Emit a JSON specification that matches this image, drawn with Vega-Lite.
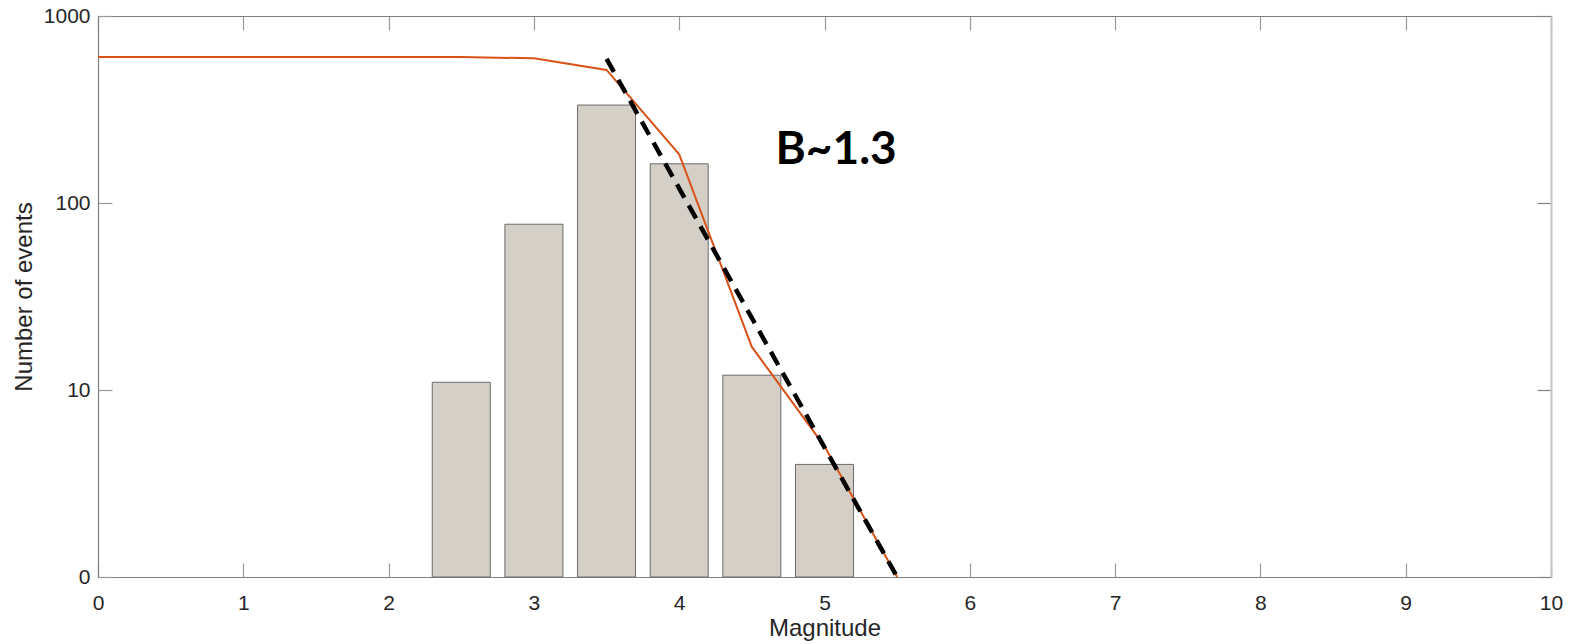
{
  "$schema": "https://vega.github.io/schema/vega-lite/v6.json",
  "autosize": "none",
  "width": 1453,
  "height": 561,
  "padding": {"left": 98, "top": 16, "right": 24, "bottom": 67},
  "background": "white",
  "config": {
    "view": {"stroke": null},
    "font": "Liberation Sans",
    "axis": {
      "grid": false,
      "labelFont": "Liberation Sans",
      "labelFontSize": 21,
      "labelColor": "#262626",
      "titleFont": "Liberation Sans",
      "titleFontSize": 24,
      "titleFontWeight": "normal",
      "titleColor": "#262626",
      "domainColor": "#808080",
      "domainWidth": 1.2,
      "tickColor": "#9a9a9a",
      "tickSize": -14,
      "tickWidth": 1.2
    }
  },
  "datasets": {
    "counts": [
      {"magnitude": 2.5, "events": 11},
      {"magnitude": 3.0, "events": 77},
      {"magnitude": 3.5, "events": 334},
      {"magnitude": 4.0, "events": 162},
      {"magnitude": 4.5, "events": 12},
      {"magnitude": 5.0, "events": 4}
    ],
    "cumulative": [
      {"magnitude": 0.0, "events": 603},
      {"magnitude": 0.5, "events": 603},
      {"magnitude": 1.0, "events": 603},
      {"magnitude": 1.5, "events": 603},
      {"magnitude": 2.0, "events": 603},
      {"magnitude": 2.5, "events": 603},
      {"magnitude": 3.0, "events": 594},
      {"magnitude": 3.5, "events": 515},
      {"magnitude": 4.0, "events": 182},
      {"magnitude": 4.5, "events": 17},
      {"magnitude": 5.0, "events": 5},
      {"magnitude": 5.5, "events": 1}
    ],
    "fit": [
      {"magnitude": 3.5, "events": 590},
      {"magnitude": 5.5, "events": 1}
    ],
    "note": [
      {"magnitude": 5.08, "events": 162, "label": "B~1.3"}
    ]
  },
  "layer": [
    {
      "data": {"name": "counts"},
      "mark": {"type": "bar", "size": 58, "fill": "#d4d0c8", "stroke": "#6b6b6b", "strokeWidth": 1},
      "encoding": {
        "x": {
          "field": "magnitude",
          "type": "quantitative",
          "scale": {"domain": [0, 10], "nice": false, "zero": false, "padding": 0},
          "axis": {
            "orient": "bottom",
            "title": "Magnitude",
            "values": [0, 1, 2, 3, 4, 5, 6, 7, 8, 9, 10],
            "labelPadding": 29,
            "titlePadding": 3,
            "labelFlush": false
          }
        },
        "y": {
          "field": "events",
          "type": "quantitative",
          "scale": {"type": "log", "domain": [1, 1000], "nice": false, "padding": 0},
          "axis": {
            "orient": "left",
            "title": "Number of events",
            "values": [1, 10, 100, 1000],
            "labelExpr": "datum.value == 1 ? '0' : format(datum.value, 'd')",
            "labelPadding": 22,
            "titlePadding": 7,
            "labelFlush": false
          }
        },
        "y2": {"datum": 1}
      }
    },
    {
      "data": {"name": "cumulative"},
      "mark": {"type": "line", "color": "#d95319", "strokeWidth": 2},
      "encoding": {
        "x": {
          "field": "magnitude",
          "type": "quantitative",
          "axis": {"orient": "top", "labels": false, "title": null, "values": [0, 1, 2, 3, 4, 5, 6, 7, 8, 9, 10]}
        },
        "y": {
          "field": "events",
          "type": "quantitative",
          "axis": {"orient": "right", "labels": false, "title": null, "values": [1, 10, 100, 1000], "domainColor": "#c4c4c4", "domainWidth": 2, "tickColor": "#808080"}
        }
      }
    },
    {
      "data": {"name": "fit"},
      "mark": {"type": "line", "color": "black", "strokeWidth": 4.5, "strokeDash": [15, 9]},
      "encoding": {
        "x": {"field": "magnitude", "type": "quantitative", "axis": null},
        "y": {"field": "events", "type": "quantitative", "axis": null}
      }
    },
    {
      "data": {"name": "note"},
      "mark": {"type": "text", "font": "Lato", "fontWeight": "bold", "fontSize": 46, "align": "center", "baseline": "alphabetic", "color": "black"},
      "encoding": {
        "x": {"field": "magnitude", "type": "quantitative", "axis": null},
        "y": {"field": "events", "type": "quantitative", "axis": null},
        "text": {"field": "label"}
      }
    }
  ],
  "resolve": {"axis": {"x": "independent", "y": "independent"}}
}
